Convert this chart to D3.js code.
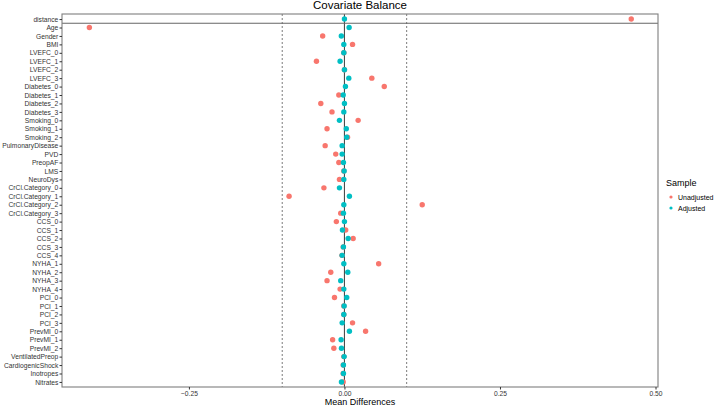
<!DOCTYPE html>
<html>
<head>
<meta charset="utf-8">
<script src="https://cdn.jsdelivr.net/npm/d3@7"></script>
<style>
	body { margin: 0; background: #fff; }
	text { font-family: "Liberation Sans", Arial, sans-serif; }
</style>
</head>
<body>
<div id="chart"><svg></svg></div>
<script>
// covariates, top to bottom
const covariates = [
	'distance', 'Age', 'Gender', 'BMI',
	'LVEFC_0', 'LVEFC_1', 'LVEFC_2', 'LVEFC_3',
	'Diabetes_0', 'Diabetes_1', 'Diabetes_2', 'Diabetes_3',
	'Smoking_0', 'Smoking_1', 'Smoking_2',
	'PulmonaryDisease', 'PVD', 'PreopAF', 'LMS', 'NeuroDys',
	'CrCl.Category_0', 'CrCl.Category_1', 'CrCl.Category_2', 'CrCl.Category_3',
	'CCS_0', 'CCS_1', 'CCS_2', 'CCS_3', 'CCS_4',
	'NYHA_1', 'NYHA_2', 'NYHA_3', 'NYHA_4',
	'PCI_0', 'PCI_1', 'PCI_2', 'PCI_3',
	'PrevMI_0', 'PrevMI_1', 'PrevMI_2',
	'VentilatedPreop', 'CardiogenicShock', 'Inotropes', 'Nitrates'
];

const unadjusted = [
	0.461, -0.410, -0.035, 0.013,
	-0.001, -0.045, 0.000, 0.044,
	0.064, -0.009, -0.038, -0.020,
	0.022, -0.028, 0.005,
	-0.031, -0.014, -0.009, -0.001, -0.008,
	-0.033, -0.089, 0.125, -0.006,
	-0.013, 0.002, 0.014, -0.002, -0.004,
	0.055, -0.022, -0.028, -0.007,
	-0.016, -0.001, -0.001, 0.013,
	0.034, -0.019, -0.017,
	-0.001, -0.002, -0.002, -0.002
];

const adjusted = [
	0.000, 0.0075, -0.005, -0.001,
	-0.001, -0.007, 0.000, 0.007,
	0.0016, -0.002, 0.000, -0.001,
	-0.008, 0.003, 0.0037,
	-0.0037, -0.0037, -0.0016, -0.0005, -0.001,
	-0.008, 0.008, -0.001, -0.0016,
	0.000, -0.0032, 0.006, -0.0016, -0.0037,
	-0.001, 0.0054, -0.006, -0.001,
	0.0037, -0.0005, -0.001, -0.0037,
	0.008, -0.0054, -0.0048,
	-0.0005, -0.0016, -0.0016, -0.0048
];

const xTicks = [-0.25, 0, 0.25, 0.5];
const thresholds = [-0.1, 0.1];
const samples = ['Unadjusted', 'Adjusted'];
const colors = ['#F8766D', '#00BFC4'];

const width = 722;
const height = 407;
const margin = { top: 14, right: 64, bottom: 20, left: 62 };

const $svg = d3.select('#chart svg').attr('width', width).attr('height', height);

const x = d3.scaleLinear()
	.domain([-0.454, 0.504])
	.range([margin.left, width - margin.right]);

const y = d3.scalePoint()
	.domain(covariates)
	.range([margin.top, height - margin.bottom])
	.padding(0.6);

const color = d3.scaleOrdinal().domain(samples).range(colors);

// title
$svg.append('text')
	.attr('x', (margin.left + width - margin.right) / 2)
	.attr('y', 9)
	.attr('text-anchor', 'middle')
	.attr('font-size', 11.5)
	.attr('fill', '#000')
	.text('Covariate Balance');

// threshold lines
$svg.append('g')
	.selectAll('line')
	.data(thresholds)
	.join('line')
	.attr('x1', d => x(d)).attr('x2', d => x(d))
	.attr('y1', margin.top).attr('y2', height - margin.bottom)
	.attr('stroke', '#444')
	.attr('stroke-width', 0.7)
	.attr('stroke-dasharray', '2,2');

// zero line
$svg.append('line')
	.attr('x1', x(0)).attr('x2', x(0))
	.attr('y1', margin.top).attr('y2', height - margin.bottom)
	.attr('stroke', '#4d4d4d')
	.attr('stroke-width', 1.1);

// separator under distance
const sepY = (y(covariates[0]) + y(covariates[1])) / 2;
$svg.append('line')
	.attr('x1', margin.left).attr('x2', width - margin.right)
	.attr('y1', sepY).attr('y2', sepY)
	.attr('stroke', '#666')
	.attr('stroke-width', 1.1);

// points
const series = [unadjusted, adjusted];
series.forEach((vals, si) => {
	$svg.append('g')
		.selectAll('circle')
		.data(vals)
		.join('circle')
		.attr('cx', d => x(d))
		.attr('cy', (d, i) => y(covariates[i]))
		.attr('r', 2.7)
		.attr('fill', color(samples[si]));
});

// panel border
$svg.append('rect')
	.attr('x', margin.left)
	.attr('y', margin.top)
	.attr('width', width - margin.right - margin.left)
	.attr('height', height - margin.bottom - margin.top)
	.attr('fill', 'none')
	.attr('stroke', '#7f7f7f')
	.attr('stroke-width', 1.1);

// axes
const yAxis = d3.axisLeft(y).tickSize(2.5).tickPadding(1.2);
const $yAxis = $svg.append('g')
	.attr('transform', `translate(${margin.left},0)`)
	.call(yAxis);
$yAxis.select('.domain').remove();
$yAxis.selectAll('line').attr('stroke', '#333');
$yAxis.selectAll('text')
	.attr('font-size', 6.7)
	.attr('fill', '#333')
	.style('font-family', '"Liberation Sans", Arial, sans-serif');

const xAxis = d3.axisBottom(x)
	.tickValues(xTicks)
	.tickFormat(d3.format('.2f'))
	.tickSize(2.5)
	.tickPadding(1.5);
const $xAxis = $svg.append('g')
	.attr('transform', `translate(0,${height - margin.bottom})`)
	.call(xAxis);
$xAxis.select('.domain').remove();
$xAxis.selectAll('line').attr('stroke', '#333');
$xAxis.selectAll('text')
	.attr('font-size', 6.7)
	.attr('fill', '#333')
	.style('font-family', '"Liberation Sans", Arial, sans-serif');

$svg.append('text')
	.attr('x', (margin.left + width - margin.right) / 2)
	.attr('y', 405)
	.attr('text-anchor', 'middle')
	.attr('font-size', 9)
	.attr('fill', '#000')
	.text('Mean Differences');

// legend
const $legend = $svg.append('g').attr('transform', 'translate(666,183)');
$legend.append('text')
	.attr('x', 0).attr('y', 3)
	.attr('font-size', 9)
	.attr('fill', '#000')
	.text('Sample');
const $items = $legend.selectAll('g.item')
	.data(samples)
	.join('g')
	.attr('class', 'item')
	.attr('transform', (d, i) => `translate(0,${14 + i * 11})`);
$items.append('circle')
	.attr('cx', 5).attr('cy', 0).attr('r', 1.6)
	.attr('fill', d => color(d));
$items.append('text')
	.attr('x', 12).attr('y', 2.5)
	.attr('font-size', 7)
	.attr('fill', '#000')
	.text(d => d);
</script>
</body>
</html>
